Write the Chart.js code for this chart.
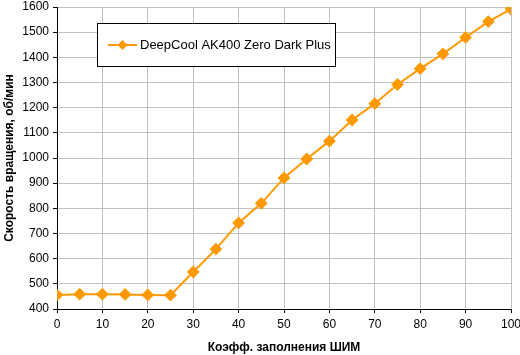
<!DOCTYPE html>
<html><head><meta charset="utf-8">
<script src="https://cdn.jsdelivr.net/npm/chart.js@4"></script>
<style>html,body{margin:0;padding:0;background:#fff}#w{width:520px;height:355px}</style>
</head><body><div id="w"><canvas id="c" width="520" height="355"></canvas></div>
<script>
const xValues = [0,5,10,15,20,25,30,35,40,45,50,55,60,65,70,75,80,85,90,95,100];
const rpmValues = [456,459,459,458,456,455,547,638,742,820,921,996,1067,1151,1216,1292,1355,1414,1479,1542,1592];
const seriesLabel = 'DeepCool AK400 Zero Dark Plus';
const xTitle = 'Коэфф. заполнения ШИМ';
const yTitle = 'Скорость вращения, об/мин';
const FONT = '"Liberation Sans", Arial, sans-serif';
const ORANGE = '#FF9900';

const legendBox = {
  id: 'legendBox',
  afterDraw(chart) {
    const ctx = chart.ctx;
    ctx.save();
    ctx.fillStyle = '#fff';
    ctx.fillRect(97.5, 23.5, 238, 43);
    ctx.strokeStyle = '#000'; ctx.lineWidth = 1;
    ctx.strokeRect(97.5, 23.5, 238, 43);
    ctx.strokeStyle = ORANGE; ctx.lineWidth = 2;
    ctx.beginPath(); ctx.moveTo(108, 45); ctx.lineTo(137, 45); ctx.stroke();
    ctx.fillStyle = ORANGE;
    ctx.beginPath(); ctx.moveTo(122.5, 40); ctx.lineTo(127.5, 45); ctx.lineTo(122.5, 50); ctx.lineTo(117.5, 45); ctx.closePath(); ctx.fill();
    ctx.fillStyle = '#000'; ctx.font = '13px ' + FONT; ctx.textBaseline = 'middle';
    ctx.fillText(chart.data.datasets[0].label, 140, 45);
    ctx.restore();
  }
};

new Chart(document.getElementById('c'), {
  type: 'line',
  data: { datasets: [{
    label: seriesLabel,
    data: xValues.map((x, i) => ({ x, y: rpmValues[i] })),
    borderColor: ORANGE, backgroundColor: ORANGE, borderWidth: 2,
    pointStyle: 'rectRot', pointRadius: 5, pointHoverRadius: 5,
    pointBackgroundColor: ORANGE, pointBorderColor: ORANGE, tension: 0
  }]},
  options: {
    responsive: false, animation: false, devicePixelRatio: 1,
    layout: { padding: { top: 5, right: 9, left: 0, bottom: 0 } },
    plugins: { legend: { display: false }, tooltip: { enabled: false } },
    scales: {
      x: {
        type: 'linear', min: 0, max: 100,
        ticks: { stepSize: 10, color: '#000', font: { family: FONT, size: 12 }, padding: 4, maxRotation: 0, callback: v => String(v) },
        grid: { color: '#c0c0c0', tickColor: '#000', tickLength: 4, lineWidth: 1 },
        border: { color: '#000', width: 1 },
        title: { display: true, text: xTitle, color: '#000', font: { family: FONT, size: 12, weight: 'bold' }, padding: { top: 4, bottom: 0 } },
        afterFit(s) { s.height = 46; s.paddingRight = 0; s.paddingLeft = 0; }
      },
      y: {
        min: 400, max: 1600,
        ticks: { stepSize: 100, color: '#000', font: { family: FONT, size: 12 }, padding: 4, callback: v => String(v) },
        grid: { color: '#c0c0c0', tickColor: '#000', tickLength: 4, lineWidth: 1 },
        border: { color: '#000', width: 1 },
        title: { display: true, text: yTitle, color: '#000', font: { family: FONT, size: 12, weight: 'bold' }, padding: { top: 2, bottom: 2 } },
        afterFit(s) { s.width = 57; s.paddingTop = 0; s.paddingBottom = 0; }
      }
    }
  },
  plugins: [legendBox]
});
</script></body></html>
